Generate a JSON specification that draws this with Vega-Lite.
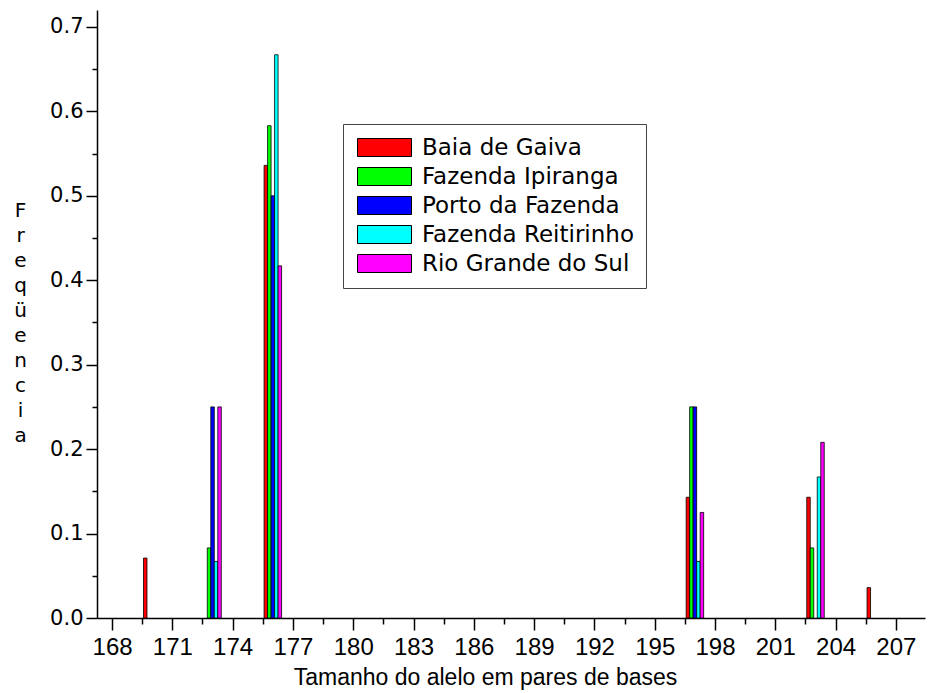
{
  "$schema": "https://vega.github.io/schema/vega-lite/v6.json",
  "autosize": "none",
  "width": 828,
  "height": 608,
  "padding": {"left": 97, "top": 10, "right": 4, "bottom": 75},
  "background": "white",
  "config": {"view": {"stroke": null}},
  "data": {"values": [
    {"allele": 170, "site": "Baia de Gaiva", "freq": 0.071},
    {"allele": 176, "site": "Baia de Gaiva", "freq": 0.536},
    {"allele": 197, "site": "Baia de Gaiva", "freq": 0.143},
    {"allele": 203, "site": "Baia de Gaiva", "freq": 0.143},
    {"allele": 206, "site": "Baia de Gaiva", "freq": 0.036},
    {"allele": 173, "site": "Fazenda Ipiranga", "freq": 0.083},
    {"allele": 176, "site": "Fazenda Ipiranga", "freq": 0.583},
    {"allele": 197, "site": "Fazenda Ipiranga", "freq": 0.25},
    {"allele": 203, "site": "Fazenda Ipiranga", "freq": 0.083},
    {"allele": 173, "site": "Porto da Fazenda", "freq": 0.25},
    {"allele": 176, "site": "Porto da Fazenda", "freq": 0.5},
    {"allele": 197, "site": "Porto da Fazenda", "freq": 0.25},
    {"allele": 173, "site": "Fazenda Reitirinho", "freq": 0.067},
    {"allele": 176, "site": "Fazenda Reitirinho", "freq": 0.667},
    {"allele": 197, "site": "Fazenda Reitirinho", "freq": 0.067},
    {"allele": 203, "site": "Fazenda Reitirinho", "freq": 0.167},
    {"allele": 173, "site": "Rio Grande do Sul", "freq": 0.25},
    {"allele": 176, "site": "Rio Grande do Sul", "freq": 0.417},
    {"allele": 197, "site": "Rio Grande do Sul", "freq": 0.125},
    {"allele": 203, "site": "Rio Grande do Sul", "freq": 0.208}
  ]},
  "encoding": {
    "x": {
      "field": "allele", "type": "quantitative",
      "scale": {"domain": [167.5, 208.2], "nice": false, "zero": false},
      "axis": {
        "values": [168,169.5,171,172.5,174,175.5,177,178.5,180,181.5,183,184.5,186,187.5,189,190.5,192,193.5,195,196.5,198,199.5,201,202.5,204,205.5,207],
        "labelExpr": "datum.value % 3 === 0 ? format(datum.value, 'd') : ''",
        "tickSize": {"condition": {"test": "datum.value % 3 === 0", "value": 12}, "value": 6},
        "tickColor": "#000000", "tickWidth": 1.5,
        "domainColor": "#000000", "domainWidth": 1.5,
        "grid": false,
        "labelFont": "Liberation Sans, Arial, sans-serif",
        "labelFontSize": 24, "labelColor": "#000000", "labelPadding": 5,
        "labelFlush": false, "labelOverlap": false,
        "title": "Tamanho do alelo em pares de bases",
        "titleFont": "Liberation Sans, Arial, sans-serif",
        "titleFontSize": 23, "titleFontWeight": "normal", "titleColor": "#000000",
        "titleX": 388, "titleY": 66, "titleBaseline": "alphabetic", "titleAlign": "center"
      }
    },
    "y": {
      "field": "freq", "type": "quantitative", "stack": null,
      "scale": {"domain": [0, 0.72], "nice": false},
      "axis": {
        "values": [0,0.05,0.1,0.15,0.2,0.25,0.3,0.35,0.4,0.45,0.5,0.55,0.6,0.65,0.7],
        "labelExpr": "round(datum.value*20) % 2 === 0 ? format(datum.value, '.1f') : ''",
        "tickSize": {"condition": {"test": "round(datum.value*20) % 2 === 0", "value": 11}, "value": 5},
        "tickColor": "#000000", "tickWidth": 1.5,
        "domainColor": "#000000", "domainWidth": 1.5,
        "grid": false,
        "labelFont": "DejaVu Sans, sans-serif", "labelFontSize": 21, "labelColor": "#000000",
        "labelPadding": 3, "labelFlush": false, "labelOverlap": false,
        "title": ["F", "r", "e", "q", "ü", "e", "n", "c", "i", "a"],
        "titleFont": "DejaVu Sans, sans-serif", "titleFontSize": 20, "titleFontWeight": "normal",
        "titleColor": "#000000", "titleAngle": 0, "titleLineHeight": 25,
        "titleX": -77, "titleY": 190, "titleBaseline": "top", "titleAlign": "center"
      }
    },
    "color": {
      "field": "site", "type": "nominal",
      "scale": {"domain": ["Baia de Gaiva", "Fazenda Ipiranga", "Porto da Fazenda", "Fazenda Reitirinho", "Rio Grande do Sul"],
                "range": ["#ff0000", "#00ff00", "#0000ff", "#00ffff", "#ff00ff"]},
      "legend": {
        "title": null,
        "orient": "none", "legendX": 246, "legendY": 114,
        "padding": 12, "fillColor": "#ffffff", "strokeColor": "#444444",
        "symbolType": "M-1,-1H5V1H-1Z", "symbolSize": 324,
        "symbolStrokeColor": "#000000", "symbolStrokeWidth": 1, "symbolOpacity": 1,
        "labelOffset": 44, "labelFont": "DejaVu Sans, sans-serif", "labelFontSize": 23,
        "labelColor": "#000000", "rowPadding": 5, "labelLimit": 400
      }
    }
  },
  "layer": [
    {"transform": [{"filter": "datum.site === 'Baia de Gaiva'"}],
     "mark": {"type": "bar", "width": 3.5, "xOffset": -7, "stroke": "#000000", "strokeWidth": 0.8, "opacity": 1}},
    {"transform": [{"filter": "datum.site === 'Fazenda Ipiranga'"}],
     "mark": {"type": "bar", "width": 3.5, "xOffset": -3.5, "stroke": "#000000", "strokeWidth": 0.8, "opacity": 1}},
    {"transform": [{"filter": "datum.site === 'Porto da Fazenda'"}],
     "mark": {"type": "bar", "width": 3.5, "xOffset": 0, "stroke": "#000000", "strokeWidth": 0.8, "opacity": 1}},
    {"transform": [{"filter": "datum.site === 'Fazenda Reitirinho'"}],
     "mark": {"type": "bar", "width": 3.5, "xOffset": 3.5, "stroke": "#000000", "strokeWidth": 0.8, "opacity": 1}},
    {"transform": [{"filter": "datum.site === 'Rio Grande do Sul'"}],
     "mark": {"type": "bar", "width": 3.5, "xOffset": 7, "stroke": "#000000", "strokeWidth": 0.8, "opacity": 1}}
  ]
}
